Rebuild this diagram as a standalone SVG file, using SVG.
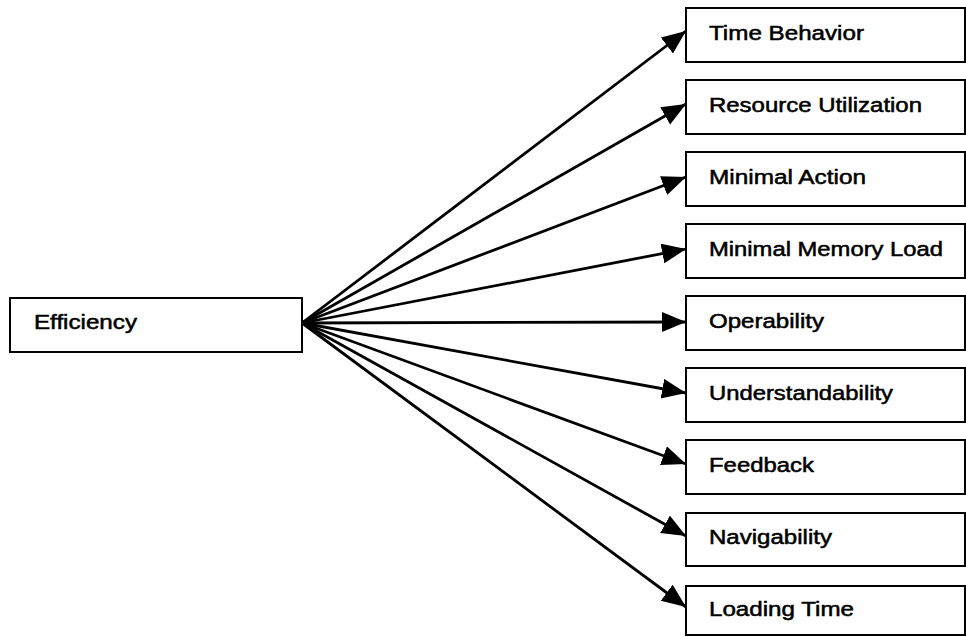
<svg xmlns="http://www.w3.org/2000/svg" width="966" height="637" viewBox="0 0 966 637">
  <style>
    .box { fill: #fff; stroke: #000; stroke-width: 2; }
    .lbl { font-family: "Liberation Sans", Arial, sans-serif; font-size: 19.5px; fill: #000; stroke: #000; stroke-width: 0.5; }
    .edge { stroke: #000; stroke-width: 2.8; fill: none; marker-end: url(#head); }
  </style>
  <defs>
    <marker id="head" markerUnits="userSpaceOnUse" markerWidth="26" markerHeight="22" refX="24" refY="10" orient="auto">
      <path d="M0,0 L24,10 L0,20 Z" fill="#000"/>
    </marker>
  </defs>
  <rect width="966" height="637" fill="#fff"/>

  <g id="connectors">
    <line class="edge" x1="302" y1="323" x2="686" y2="31"/>
    <line class="edge" x1="302" y1="323" x2="686" y2="104"/>
    <line class="edge" x1="302" y1="323" x2="686" y2="177"/>
    <line class="edge" x1="302" y1="323" x2="686" y2="249"/>
    <line class="edge" x1="302" y1="323" x2="686" y2="322"/>
    <line class="edge" x1="302" y1="323" x2="686" y2="393"/>
    <line class="edge" x1="302" y1="323" x2="686" y2="464"/>
    <line class="edge" x1="302" y1="323" x2="686" y2="536"/>
    <line class="edge" x1="302" y1="323" x2="686" y2="607"/>
  </g>

  <g id="efficiency">
    <rect class="box" x="10" y="298" width="292" height="54"/>
    <text class="lbl" x="34" y="329" textLength="103" lengthAdjust="spacingAndGlyphs">Efficiency</text>
  </g>

  <g id="time-behavior">
    <rect class="box" x="686" y="8" width="279" height="54"/>
    <text class="lbl" x="709" y="40" textLength="155" lengthAdjust="spacingAndGlyphs">Time Behavior</text>
  </g>
  <g id="resource-utilization">
    <rect class="box" x="686" y="80" width="279" height="54"/>
    <text class="lbl" x="709" y="112" textLength="213" lengthAdjust="spacingAndGlyphs">Resource Utilization</text>
  </g>
  <g id="minimal-action">
    <rect class="box" x="686" y="152" width="279" height="54"/>
    <text class="lbl" x="709" y="184" textLength="157" lengthAdjust="spacingAndGlyphs">Minimal Action</text>
  </g>
  <g id="minimal-memory-load">
    <rect class="box" x="686" y="224" width="279" height="54"/>
    <text class="lbl" x="709" y="256" textLength="234" lengthAdjust="spacingAndGlyphs">Minimal Memory Load</text>
  </g>
  <g id="operability">
    <rect class="box" x="686" y="296" width="279" height="54"/>
    <text class="lbl" x="709" y="328" textLength="115" lengthAdjust="spacingAndGlyphs">Operability</text>
  </g>
  <g id="understandability">
    <rect class="box" x="686" y="368" width="279" height="54"/>
    <text class="lbl" x="709" y="400" textLength="184" lengthAdjust="spacingAndGlyphs">Understandability</text>
  </g>
  <g id="feedback">
    <rect class="box" x="686" y="440" width="279" height="54"/>
    <text class="lbl" x="709" y="472" textLength="105" lengthAdjust="spacingAndGlyphs">Feedback</text>
  </g>
  <g id="navigability">
    <rect class="box" x="686" y="513" width="279" height="53"/>
    <text class="lbl" x="709" y="544" textLength="123" lengthAdjust="spacingAndGlyphs">Navigability</text>
  </g>
  <g id="loading-time">
    <rect class="box" x="686" y="586" width="279" height="49"/>
    <text class="lbl" x="709" y="616" textLength="145" lengthAdjust="spacingAndGlyphs">Loading Time</text>
  </g>
</svg>
